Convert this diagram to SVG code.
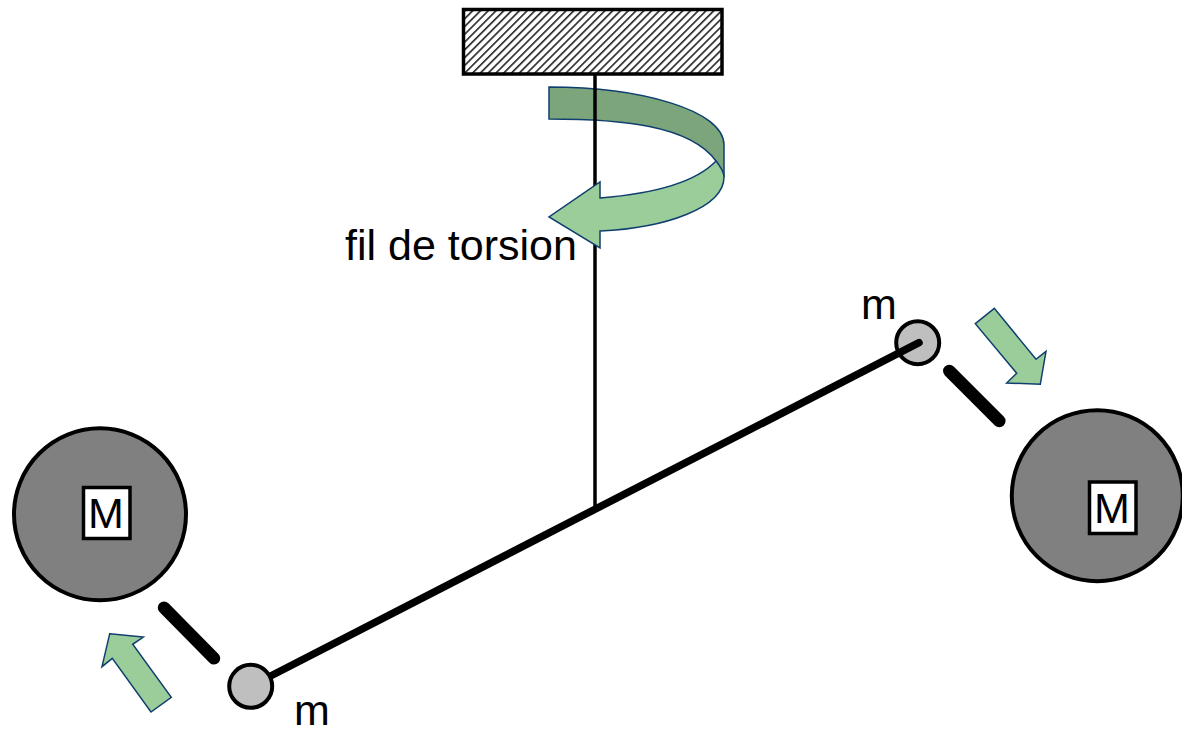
<svg xmlns="http://www.w3.org/2000/svg" width="1182" height="734" viewBox="0 0 1182 734">
<style>
text{font-family:"Liberation Sans",Arial,sans-serif;font-size:43px;fill:#000}
.big{fill:#808080;stroke:#000;stroke-width:4}
.small{fill:#bfbfbf;stroke:#000;stroke-width:4}
.box{fill:#fff;stroke:#000;stroke-width:3.5}
.bar{stroke:#000;stroke-width:12.500;stroke-linecap:round;fill:none}
.green{fill:#9bcd9b;stroke:#0f3f6e;stroke-width:1.5;stroke-linejoin:miter}
.dark{fill:#7ca57c;stroke:#0f3f6e;stroke-width:1.5}
</style>
<defs>
<pattern id="hatch" width="5.5" height="5.5" patternUnits="userSpaceOnUse" patternTransform="rotate(45)">
<rect width="5.5" height="5.5" fill="#fff"/>
<rect width="1.6" height="5.5" fill="#222"/>
</pattern>
</defs>
<g id="support"><rect x="463.500" y="9.500" width="258.500" height="64.500" fill="url(#hatch)" stroke="#000" stroke-width="3.500"/></g>
<g id="twist-back"><path class="dark" d="M549 87C640 87 724 110 724 145V177L716 161C690 125 620 119 549 119Z"/></g>
<g id="mass-right"><circle class="small" cx="917.700" cy="342.700" r="21.500"/></g>
<g id="connectors">
<line x1="595" y1="74" x2="595" y2="507" stroke="#000" stroke-width="3.500"/>
<line x1="919" y1="342.700" x2="258" y2="682.500" stroke="#000" stroke-width="7.500" stroke-linecap="round"/>
</g>
<g id="mass-left"><circle class="small" cx="250.700" cy="686.300" r="21.500"/></g>
<g id="twist-front"><path class="green" d="M716 161C720 166 724 172 724 177C724 208 665 228 600 231V248L549 217L600 182V198C650 194 695 183 716 161Z"/></g>
<g id="label"><text x="345" y="260">fil de torsion</text></g>
<g id="label-m-right"><text x="861" y="319">m</text></g>
<g id="label-m-left"><text x="294" y="724.500">m</text></g>
<g id="big-left"><circle class="big" cx="100" cy="514.300" r="86"/><rect class="box" x="83.500" y="487.500" width="46.500" height="51"/><text x="88" y="528">M</text></g>
<g id="big-right"><circle class="big" cx="1097.300" cy="495.700" r="85.500"/><rect class="box" x="1089.500" y="482" width="46.500" height="51.500"/><text x="1094" y="523">M</text></g>
<g id="bar-left"><line class="bar" x1="164" y1="607.700" x2="214" y2="658.300"/></g>
<g id="bar-right"><line class="bar" x1="949.300" y1="371" x2="999.300" y2="421"/></g>
<g id="arrow-right"><polygon class="green" points="994.300,308.300 975.300,323.700 1016.700,373.300 1006.700,383 1040.300,384.300 1046,351.300 1036,359.300"/></g>
<g id="arrow-left"><polygon class="green" points="109.700,633.700 143.300,637 132.700,644.300 171.300,697.300 151,712 112.300,658.300 102,666.700"/></g>
</svg>
